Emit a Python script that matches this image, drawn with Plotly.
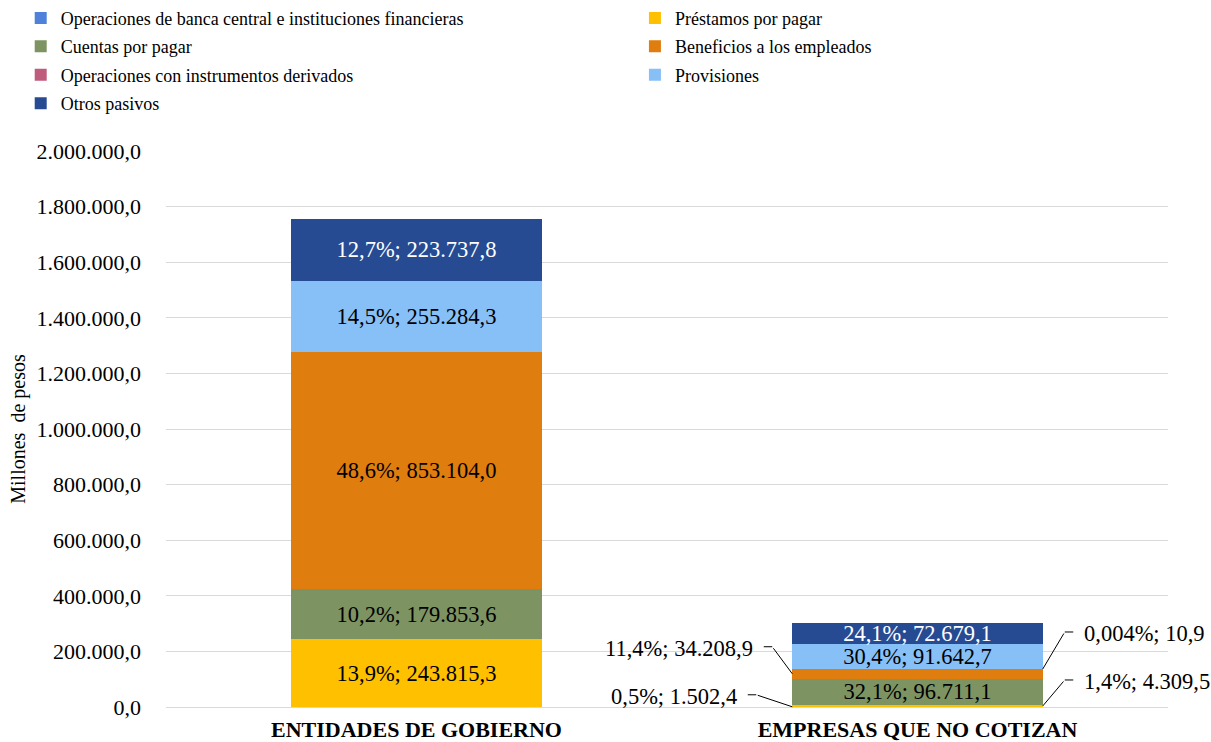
import plotly.graph_objects as go

categories = ["ENTIDADES DE GOBIERNO", "EMPRESAS QUE NO COTIZAN"]
series_names = [
    "Operaciones de banca central e instituciones financieras",
    "Préstamos por pagar",
    "Cuentas por pagar",
    "Beneficios a los empleados",
    "Operaciones con instrumentos derivados",
    "Provisiones",
    "Otros pasivos",
]
banca = [0.0, 1502.4]
prestamos = [243815.3, 4309.5]
cuentas = [179853.6, 96711.1]
beneficios = [853104.0, 34208.9]
derivados = [0.0, 10.9]
provisiones = [255284.3, 91642.7]
otros = [223737.8, 72679.1]
series_values = [banca, prestamos, cuentas, beneficios, derivados, provisiones, otros]

colors = ["#4F81DB", "#FFC000", "#7D9462", "#DF7D0E", "#BF5B7C", "#87BFF7", "#264B93"]
text_colors = ["black", "black", "black", "black", "black", "black", "white"]
legend_ids = ["legend", "legend2", "legend", "legend2", "legend", "legend2", "legend"]

# labels drawn outside with leader lines: (category index, series index, side, ax, ay)
outside = [
    (1, 0, "left", -36, -12),
    (1, 3, "left", -20, -27),
    (1, 1, "right", 22, -26),
    (1, 4, "right", 22, -37),
]
outside_keys = {(c, s) for c, s, *_ in outside}

FONT = "Liberation Serif"
LABEL_SIZE = 22.5


def fmt_num(v, dec=1):
    s = f"{v:,.{dec}f}"
    return s.replace(",", "X").replace(".", ",").replace("X", ".")


totals = [sum(s[i] for s in series_values) for i in range(len(categories))]


def label(ci, si):
    v = series_values[si][ci]
    pct = v / totals[ci] * 100
    dec = 1 if pct >= 0.05 else 3
    return f"{fmt_num(pct, dec)}%; {fmt_num(v)}"


fig = go.Figure()
for si, name in enumerate(series_names):
    vals = series_values[si]
    texts = []
    for ci in range(len(categories)):
        if vals[ci] > 0 and (ci, si) not in outside_keys:
            texts.append(label(ci, si))
        else:
            texts.append("")
    fig.add_trace(go.Bar(
        x=categories, y=vals, name=name,
        marker=dict(color=colors[si], line=dict(width=0)),
        text=texts, textposition="inside", insidetextanchor="middle",
        textangle=0, constraintext="none", cliponaxis=False,
        textfont=dict(color=text_colors[si], size=LABEL_SIZE, family=FONT),
        legend=legend_ids[si], legendgroup=name,
        hoverinfo="skip",
    ))

annotations = []
half = 0.25
stub = 10
gap = 8
for ci, si, side, ax, ay in outside:
    base = sum(series_values[k][ci] for k in range(si))
    ymid = base + series_values[si][ci] / 2
    sgn = -1 if side == "left" else 1
    xe = ci + sgn * half
    # diagonal leader
    annotations.append(dict(
        x=xe, y=ymid, xref="x", yref="y", text="",
        showarrow=True, arrowhead=0, arrowwidth=1, arrowcolor="black",
        ax=ax, ay=ay,
    ))
    # horizontal stub
    annotations.append(dict(
        x=xe, y=ymid, xref="x", yref="y", text="",
        showarrow=True, arrowhead=0, arrowwidth=1, arrowcolor="black",
        ax=sgn * stub, ay=0, xshift=ax, yshift=-ay,
    ))
    # label text
    annotations.append(dict(
        x=xe, y=ymid, xref="x", yref="y", text=label(ci, si),
        showarrow=False, xshift=ax + sgn * (stub + gap), yshift=-ay - 2,
        xanchor="right" if side == "left" else "left", yanchor="middle",
        font=dict(size=LABEL_SIZE, color="black", family=FONT), borderpad=0,
    ))

fig.update_layout(
    width=1211, height=742,
    margin=dict(l=166, r=43, t=151, b=35, autoexpand=False),
    paper_bgcolor="white", plot_bgcolor="white",
    font=dict(family=FONT, size=22, color="black"),
    separators=",.",
    barmode="stack", bargap=0.5,
    annotations=annotations,
    legend=dict(x=-0.145, y=1.272, xanchor="left", yanchor="top",
                orientation="v", tracegroupgap=2, bgcolor="rgba(0,0,0,0)",
                font=dict(size=18, family=FONT), traceorder="grouped"),
    legend2=dict(x=0.468, y=1.272, xanchor="left", yanchor="top",
                 orientation="v", tracegroupgap=2, bgcolor="rgba(0,0,0,0)",
                 font=dict(size=18, family=FONT), traceorder="grouped"),
)
fig.update_yaxes(
    range=[0, 2000000], dtick=200000, tickformat=",.1f",
    gridcolor="#D9D9D9", gridwidth=1, zeroline=False, showline=False,
    ticks="", ticklabelstandoff=24, tickfont=dict(size=22),
    title=dict(text="Millones  de pesos", font=dict(size=20), standoff=5),
)
fig.update_xaxes(
    range=[-0.5, 1.5],
    showline=True, linecolor="#D9D9D9", linewidth=1, ticks="",
    tickfont=dict(weight="bold", size=22), ticklabelstandoff=3,
)

fig.write_html("out.html", config={"displayModeBar": False},
               post_script="document.body.style.margin='0px';")
